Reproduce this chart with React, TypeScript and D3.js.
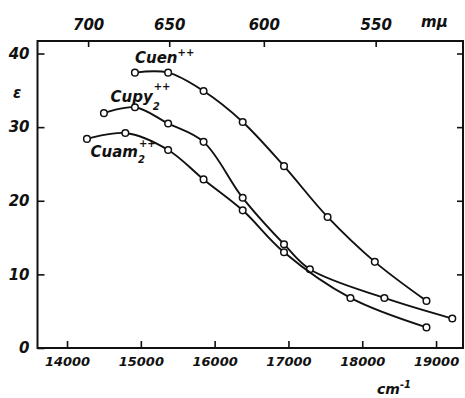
import React, { useRef, useEffect } from 'react';
import * as d3 from 'd3';

// wavenumber ticks (cm-1) and wavelength ticks (mμ)
const cmTicks = [14000, 15000, 16000, 17000, 18000, 19000];
const nmTicks = [700, 650, 600, 550];
const epsTicks = [0, 10, 20, 30, 40];

// Cuen++
const cuenX = [14920, 15370, 15850, 16380, 16940, 17530, 18170, 18870];
const cuenY = [37.4, 37.4, 34.9, 30.7, 24.7, 17.8, 11.7, 6.4];
// Cupy2++
const cupyX = [14500, 14920, 15370, 15850, 16380, 16940, 17290, 18300, 19220];
const cupyY = [31.9, 32.7, 30.5, 28.0, 20.4, 14.1, 10.7, 6.8, 4.0];
// Cuam2++
const cuamX = [14270, 14790, 15370, 15850, 16380, 16940, 17840, 18870];
const cuamY = [28.4, 29.2, 26.9, 22.9, 18.7, 13.0, 6.8, 2.8];

const FONT = 'DejaVu Sans';

function App() {
  const svgRef = useRef(null);

  useEffect(() => {
    const w = 465;
    const h = 398;
    const svg = d3.select(svgRef.current);
    svg.selectAll('*').remove();

    const xScale = d3.scaleLinear().domain([13600, 19365]).range([37.5, 463]);
    const yScale = d3.scaleLinear().domain([0, 41.7]).range([348, 41]);

    const styleAxis = (g: any, size: number) => {
      g.select('.domain').remove();
      g.selectAll('line').attr('stroke', '#111').attr('stroke-width', 1.6);
      g.selectAll('text')
        .attr('fill', '#111')
        .style('font-family', FONT)
        .style('font-style', 'italic')
        .style('font-weight', 'bold')
        .style('font-size', size + 'px');
    };

    // bottom axis, ticks pointing in
    svg
      .append('g')
      .attr('transform', `translate(0, ${yScale(0)})`)
      .call(d3.axisBottom(xScale).tickValues(cmTicks).tickSize(-7).tickPadding(9).tickFormat((d: any) => String(d)))
      .call((g: any) => styleAxis(g, 13));

    // top axis in mμ, positioned at 1e7 / λ
    svg
      .append('g')
      .attr('transform', `translate(0, 41)`)
      .call(
        d3
          .axisTop(xScale)
          .tickValues(nmTicks.map((n) => 1e7 / n))
          .tickSize(-6)
          .tickPadding(11)
          .tickFormat((d: any) => String(Math.round(1e7 / d)))
      )
      .call((g: any) => styleAxis(g, 15));

    svg
      .append('g')
      .attr('transform', `translate(37.5, 0)`)
      .call(d3.axisLeft(yScale).tickValues(epsTicks).tickSize(-7).tickPadding(8))
      .call((g: any) => styleAxis(g, 15));

    svg
      .append('g')
      .attr('transform', `translate(463, 0)`)
      .call(d3.axisRight(yScale).tickValues(epsTicks.slice(1)).tickSize(-6).tickFormat(() => ''))
      .call((g: any) => styleAxis(g, 15));

    // frame
    svg
      .append('rect')
      .attr('x', 37.5)
      .attr('y', 41)
      .attr('width', 463 - 37.5)
      .attr('height', 348 - 41)
      .attr('fill', 'none')
      .attr('stroke', '#111')
      .attr('stroke-width', 2);

    const line = d3
      .line()
      .x((d: any) => xScale(d[0]))
      .y((d: any) => yScale(d[1]))
      .curve(d3.curveCatmullRom.alpha(0.5));

    const series = [
      [cuenX, cuenY],
      [cupyX, cupyY],
      [cuamX, cuamY],
    ];
    series.forEach(([xs, ys]) => {
      const pts: any = xs.map((x, i) => [x, ys[i]]);
      svg
        .append('path')
        .attr('d', line(pts))
        .attr('fill', 'none')
        .attr('stroke', '#111')
        .attr('stroke-width', 1.9);
      svg
        .append('g')
        .selectAll('circle')
        .data(pts)
        .join('circle')
        .attr('cx', (d: any) => xScale(d[0]))
        .attr('cy', (d: any) => yScale(d[1]))
        .attr('r', 3.3)
        .attr('fill', 'white')
        .attr('stroke', '#111')
        .attr('stroke-width', 1.5);
    });

    const text = (x: number, y: number, size: number) =>
      svg
        .append('text')
        .attr('x', x)
        .attr('y', y)
        .attr('fill', '#111')
        .style('font-family', FONT)
        .style('font-style', 'italic')
        .style('font-weight', 'bold')
        .style('font-size', size + 'px');

    // labels
    const t1 = text(135, 63, 15);
    t1.append('tspan').text('Cuen');
    t1.append('tspan').attr('dy', -7).style('font-size', '10px').text('++');

    const t2 = text(110.5, 102, 15);
    t2.append('tspan').text('Cupy');
    t2.append('tspan').attr('dy', 8).style('font-size', '10px').text('2');
    t2.append('tspan').attr('dx', -6).attr('dy', -20).style('font-size', '10px').text('++');

    const t3 = text(90.5, 157, 15);
    t3.append('tspan').text('Cuam');
    t3.append('tspan').attr('dy', 6).style('font-size', '10px').text('2');
    t3.append('tspan').attr('dx', -6).attr('dy', -16).style('font-size', '10px').text('++');

    text(13, 98, 15).text('ε');
    text(421, 27, 15).text('mμ');

    const t4 = text(377, 394, 14);
    t4.append('tspan').text('cm');
    t4.append('tspan').attr('dy', -6).style('font-size', '10px').text('-1');

    svg.attr('width', w).attr('height', h);
  }, []);

  return (
    <div>
      <svg ref={svgRef} style={{ position: 'absolute', left: 0, top: 0, background: 'white' }}></svg>
    </div>
  );
}

export default App;
